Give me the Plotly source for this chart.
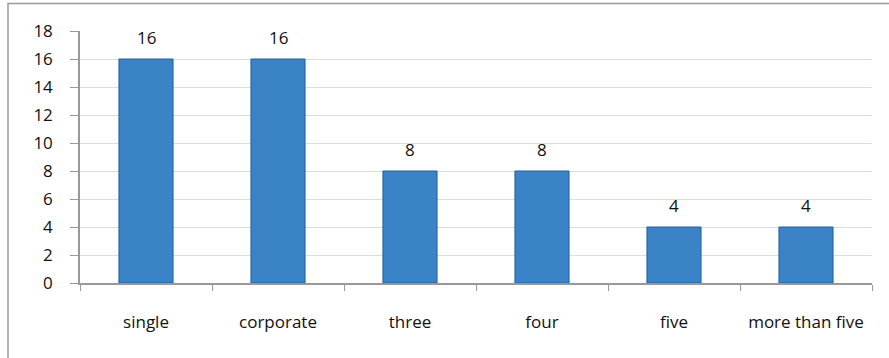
import plotly.graph_objects as go

categories = ["single", "corporate", "three", "four", "five", "more than five"]
values = [16, 16, 8, 8, 4, 4]
y_ticks = [0, 2, 4, 6, 8, 10, 12, 14, 16, 18]

FONT = "'Open Sans', sans-serif"
TXT = "#111111"

fig = go.Figure()
fig.add_trace(go.Bar(
    x=categories, y=values, width=0.41,
    marker=dict(color="#3a83c7", line=dict(color="#24609c", width=1)),
    hoverinfo="x+y",
))

for c, v in zip(categories, values):
    fig.add_annotation(x=c, y=v, text=str(v), showarrow=False, yshift=22,
                       font=dict(family=FONT, size=17, color=TXT))

# outer chart border (only top/left visible in the frame)
fig.add_shape(type="rect", xref="paper", yref="paper",
              x0=(8 - 80) / 792, x1=(900 - 80) / 792,
              y0=(283 - 370) / 252, y1=(283 - 3.5) / 252,
              line=dict(color="#9a9a9a", width=1.5), fillcolor="rgba(0,0,0,0)", layer="below")

fig.update_layout(
    width=889, height=358,
    margin=dict(l=80, r=17, t=31, b=75),
    paper_bgcolor="white", plot_bgcolor="white",
    showlegend=False,
    bargap=0.59,
    font=dict(family=FONT, size=17, color=TXT),
)
fig.update_xaxes(
    showline=True, linecolor="#999999", linewidth=1.5,
    ticks="outside", ticklen=6, tickcolor="#999999", tickson="boundaries",
    ticklabelstandoff=23, tickfont=dict(size=17, family=FONT, color=TXT),
    showgrid=False,
)
fig.update_yaxes(
    range=[0, 18], tickvals=y_ticks,
    showline=True, linecolor="#999999", linewidth=1.5,
    ticks="outside", ticklen=8, tickcolor="#999999",
    showgrid=True, gridcolor="#d3deec", gridwidth=1.2,
    ticklabelstandoff=14,
    tickfont=dict(size=17, family=FONT, color=TXT),
    zeroline=False,
)

fig.write_html("out.html")
